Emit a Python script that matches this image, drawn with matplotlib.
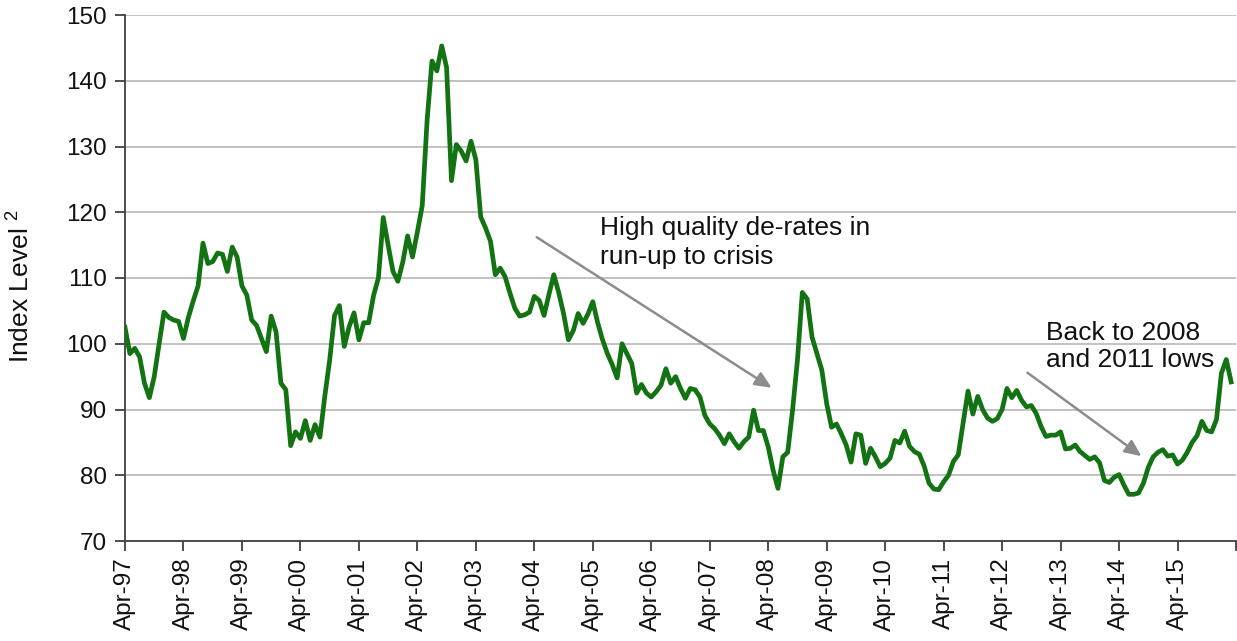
import matplotlib
matplotlib.use("Agg")
import matplotlib.pyplot as plt
import numpy as np

plt.rcParams['font.family'] = ['Liberation Sans', 'DejaVu Sans']
plt.rcParams['mathtext.fontset'] = 'custom'
plt.rcParams['mathtext.rm'] = 'Liberation Sans'
plt.rcParams['mathtext.it'] = 'Liberation Sans'

# Monthly index level, Apr-97 .. Mar-16 (one row per Apr..Mar year)
y97 = [102.5, 98.5, 99.3, 98.0, 94.0, 91.8, 95.0, 100.0, 104.8, 104.0, 103.6, 103.4]
y98 = [100.8, 104.0, 106.5, 108.8, 115.3, 112.2, 112.5, 113.8, 113.6, 111.0, 114.7, 113.2]
y99 = [108.8, 107.4, 103.6, 102.8, 100.8, 98.8, 104.2, 101.8, 94.0, 93.0, 84.5, 86.6]
y00 = [85.6, 88.3, 85.3, 87.7, 85.8, 92.0, 97.5, 104.3, 105.8, 99.6, 102.6, 104.7]
y01 = [100.6, 103.2, 103.2, 107.3, 110.0, 119.2, 115.0, 111.0, 109.5, 112.4, 116.4, 113.2]
y02 = [117.0, 121.0, 134.0, 143.0, 141.5, 145.3, 142.0, 124.8, 130.3, 129.3, 127.8, 130.8]
y03 = [128.0, 119.3, 117.6, 115.6, 110.5, 111.5, 110.2, 107.7, 105.4, 104.2, 104.4, 104.8]
y04 = [107.2, 106.6, 104.3, 107.5, 110.5, 107.8, 104.6, 100.6, 102.0, 104.6, 103.1, 104.5]
y05 = [106.4, 103.2, 100.6, 98.5, 96.8, 94.8, 100.0, 98.5, 97.0, 92.5, 93.8, 92.5]
y06 = [91.9, 92.7, 93.7, 96.2, 94.0, 95.0, 93.2, 91.7, 93.2, 93.0, 91.9, 89.1]
y07 = [87.8, 87.1, 86.1, 84.8, 86.3, 85.1, 84.1, 85.1, 85.8, 89.9, 86.8, 86.8]
y08 = [84.3, 80.8, 78.0, 82.8, 83.5, 89.9, 97.5, 107.8, 106.8, 101.0, 98.5, 96.0]
y09 = [90.9, 87.3, 87.8, 86.3, 84.6, 82.0, 86.3, 86.1, 81.8, 84.1, 82.8, 81.3]
y10 = [81.8, 82.6, 85.3, 84.9, 86.7, 84.4, 83.6, 83.2, 81.4, 78.8, 77.9, 77.8]
y11 = [79.0, 80.0, 82.1, 83.1, 87.9, 92.8, 89.3, 92.0, 90.0, 88.7, 88.2, 88.6]
y12 = [90.0, 93.2, 91.8, 92.9, 91.4, 90.4, 90.6, 89.4, 87.4, 85.9, 86.1, 86.1]
y13 = [86.6, 84.0, 84.1, 84.6, 83.6, 83.0, 82.4, 82.8, 81.9, 79.2, 78.9, 79.7]
y14 = [80.1, 78.5, 77.1, 77.1, 77.3, 78.8, 81.2, 82.8, 83.5, 83.9, 82.9, 83.1]
y15 = [81.7, 82.3, 83.5, 85.0, 86.0, 88.2, 86.8, 86.6, 88.5, 95.5, 97.6, 94.2]

values = (y97 + y98 + y99 + y00 + y01 + y02 + y03 + y04 + y05 + y06 +
          y07 + y08 + y09 + y10 + y11 + y12 + y13 + y14 + y15)
tick_labels = ['Apr-97', 'Apr-98', 'Apr-99', 'Apr-00', 'Apr-01', 'Apr-02',
               'Apr-03', 'Apr-04', 'Apr-05', 'Apr-06', 'Apr-07', 'Apr-08',
               'Apr-09', 'Apr-10', 'Apr-11', 'Apr-12', 'Apr-13', 'Apr-14',
               'Apr-15']

fig = plt.figure(figsize=(12.37, 6.41), dpi=100)
ax = fig.add_axes([125 / 1237, 1 - 541 / 641, (1236 - 125) / 1237, (541 - 15) / 641])

x = np.arange(len(values))
ax.plot(x, values, color='#137313', lw=3.4, solid_joinstyle='round', zorder=3)

ax.set_xlim(0, len(values))
ax.set_ylim(70, 150)
ax.set_yticks(np.arange(70, 151, 10))
ax.yaxis.grid(True, color='#bdbdbd', lw=1.3, zorder=0)
ax.set_axisbelow(True)

xt = list(range(0, len(values) + 1, 12))
ax.set_xticks(xt)
ax.set_xticklabels(tick_labels + [''] * (len(xt) - len(tick_labels)), rotation=90)

for s in ['top', 'right']:
    ax.spines[s].set_visible(False)
for s in ['left', 'bottom']:
    ax.spines[s].set_color('#404040')
    ax.spines[s].set_linewidth(1.3)
ax.tick_params(axis='both', direction='out', length=7, width=1.3, color='#404040',
               labelsize=17.5, labelcolor='#111111')
ax.tick_params(axis='y', pad=6)
ax.tick_params(axis='x', pad=5)

ax.set_ylabel('Index Level $^{2}$', fontsize=19, color='#111111')
ax.yaxis.set_label_coords(-0.0815, 0.485)

ax.annotate('', xy=(132.7, 93.3), xytext=(84.5, 116.2),
            arrowprops=dict(arrowstyle='-|>,head_length=1.0,head_width=0.45',
                            color='#8c8c8c', lw=1.8, shrinkA=0, shrinkB=0))
ax.annotate('', xy=(208.6, 82.9), xytext=(185.2, 95.6),
            arrowprops=dict(arrowstyle='-|>,head_length=1.0,head_width=0.45',
                            color='#8c8c8c', lw=1.8, shrinkA=0, shrinkB=0))

ax.text(97.4, 119.4, 'High quality de-rates in\nrun-up to crisis', fontsize=19,
        color='#111111', ha='left', va='top', linespacing=1.25)
ax.text(189.1, 103.4, 'Back to 2008\nand 2011 lows', fontsize=19,
        color='#111111', ha='left', va='top', linespacing=1.15)

fig.savefig('out.png', dpi=100)
